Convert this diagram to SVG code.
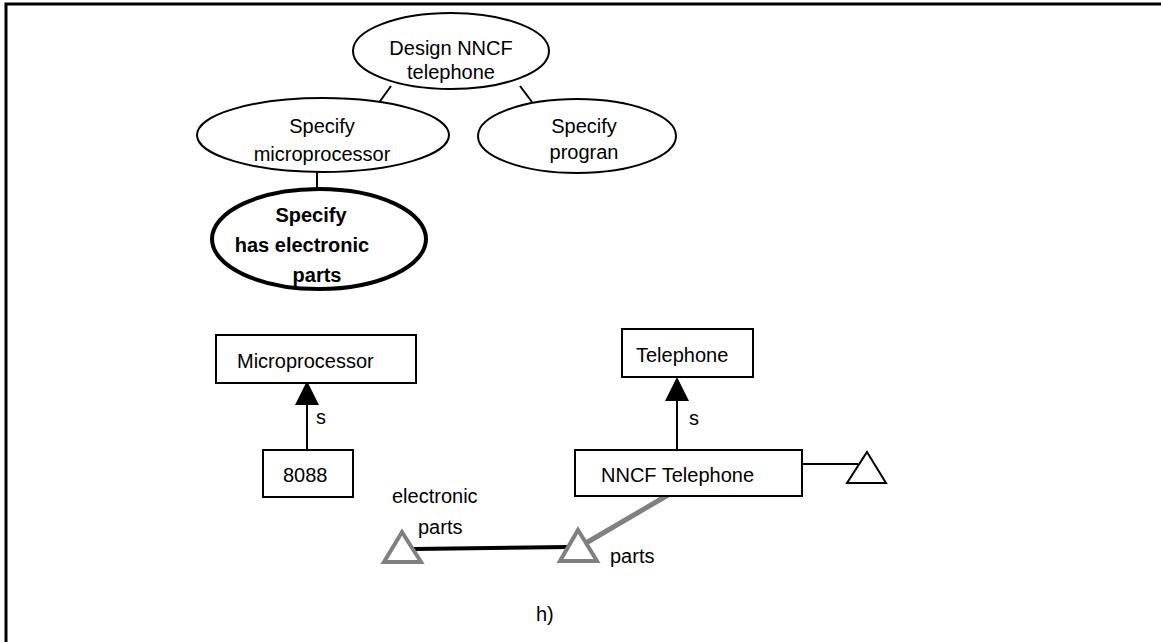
<svg xmlns="http://www.w3.org/2000/svg" width="1161" height="642" viewBox="0 0 1161 642">
<defs>
<style>
.t{font-family:"Liberation Sans",Arial,sans-serif;font-size:20px;fill:#000}
.b{font-family:"Liberation Sans",Arial,sans-serif;font-size:20px;font-weight:bold;fill:#000}
.e{fill:#fff;stroke:#000;stroke-width:2}
.bx{fill:#fff;stroke:#000;stroke-width:2}
.ln{stroke:#000;stroke-width:2;fill:none}
.gt{fill:#fff;stroke:#808080;stroke-width:4;stroke-linejoin:miter}
</style>
</defs>
<rect width="1161" height="642" fill="#fff"/>
<g id="frame">
<path d="M1161,4 H6 V642" fill="none" stroke="#000" stroke-width="3"/>
</g>
<g id="connectors">
<line class="ln" x1="391" y1="86" x2="378" y2="104"/>
<line class="ln" x1="520" y1="86" x2="532" y2="102"/>
<line class="ln" x1="317" y1="170" x2="317" y2="187"/>
<line class="ln" x1="307" y1="450" x2="307" y2="402"/>
<path d="M307,381 L319,405 L295,405 Z" fill="#000"/>
<line class="ln" x1="677" y1="449" x2="677" y2="400"/>
<path d="M677,377 L689,401 L665,401 Z" fill="#000"/>
<line class="ln" x1="802" y1="464" x2="858" y2="464"/>
<line x1="668" y1="495" x2="586" y2="543" stroke="#808080" stroke-width="5"/>
<line x1="414" y1="549" x2="568" y2="547" stroke="#000" stroke-width="4"/>
<text class="t" x="316" y="424">s</text>
<text class="t" x="689" y="425">s</text>
<text class="t" x="392" y="503">electronic</text>
<text class="t" x="418" y="534">parts</text>
<text class="t" x="610" y="563">parts</text>
</g>
<g id="n-design">
<ellipse class="e" cx="451" cy="51" rx="98" ry="38"/>
<text class="t" x="451" y="55" text-anchor="middle">Design NNCF</text>
<text class="t" x="451" y="79" text-anchor="middle">telephone</text>
</g>
<g id="n-specmicro">
<ellipse class="e" cx="323" cy="135" rx="126" ry="37"/>
<text class="t" x="322" y="133" text-anchor="middle">Specify</text>
<text class="t" x="322" y="161" text-anchor="middle">microprocessor</text>
</g>
<g id="n-specprog">
<ellipse class="e" cx="577" cy="136" rx="99" ry="37"/>
<text class="t" x="584" y="133" text-anchor="middle">Specify</text>
<text class="t" x="584" y="159" text-anchor="middle">progran</text>
</g>
<g id="n-specelec">
<ellipse cx="319" cy="239" rx="107" ry="50" fill="#fff" stroke="#000" stroke-width="4"/>
<text class="b" x="311" y="222" text-anchor="middle">Specify</text>
<text class="b" x="302" y="252" text-anchor="middle">has electronic</text>
<text class="b" x="317" y="282" text-anchor="middle">parts</text>
</g>
<g id="n-microprocessor">
<rect class="bx" x="216" y="335" width="200" height="48"/>
<text class="t" x="237" y="368">Microprocessor</text>
</g>
<g id="n-8088">
<rect class="bx" x="263" y="450" width="90" height="47"/>
<text class="t" x="283" y="482">8088</text>
</g>
<g id="n-telephone">
<rect class="bx" x="622" y="329" width="131" height="48"/>
<text class="t" x="636" y="362">Telephone</text>
</g>
<g id="n-nncf">
<rect class="bx" x="575" y="450" width="227" height="46"/>
<text class="t" x="601" y="482">NNCF Telephone</text>
</g>
<g id="n-tri-right">
<path d="M867,452 L886,483 L847,483 Z" fill="#fff" stroke="#000" stroke-width="2"/>
</g>
<g id="n-tri-elec">
<path d="M402,532 L421,562 L384,562 Z" class="gt"/>
</g>
<g id="n-tri-parts">
<path d="M578,530 L597,561 L560,561 Z" class="gt"/>
</g>
<g id="caption">
<text class="t" x="536" y="621">h)</text>
</g>
</svg>
